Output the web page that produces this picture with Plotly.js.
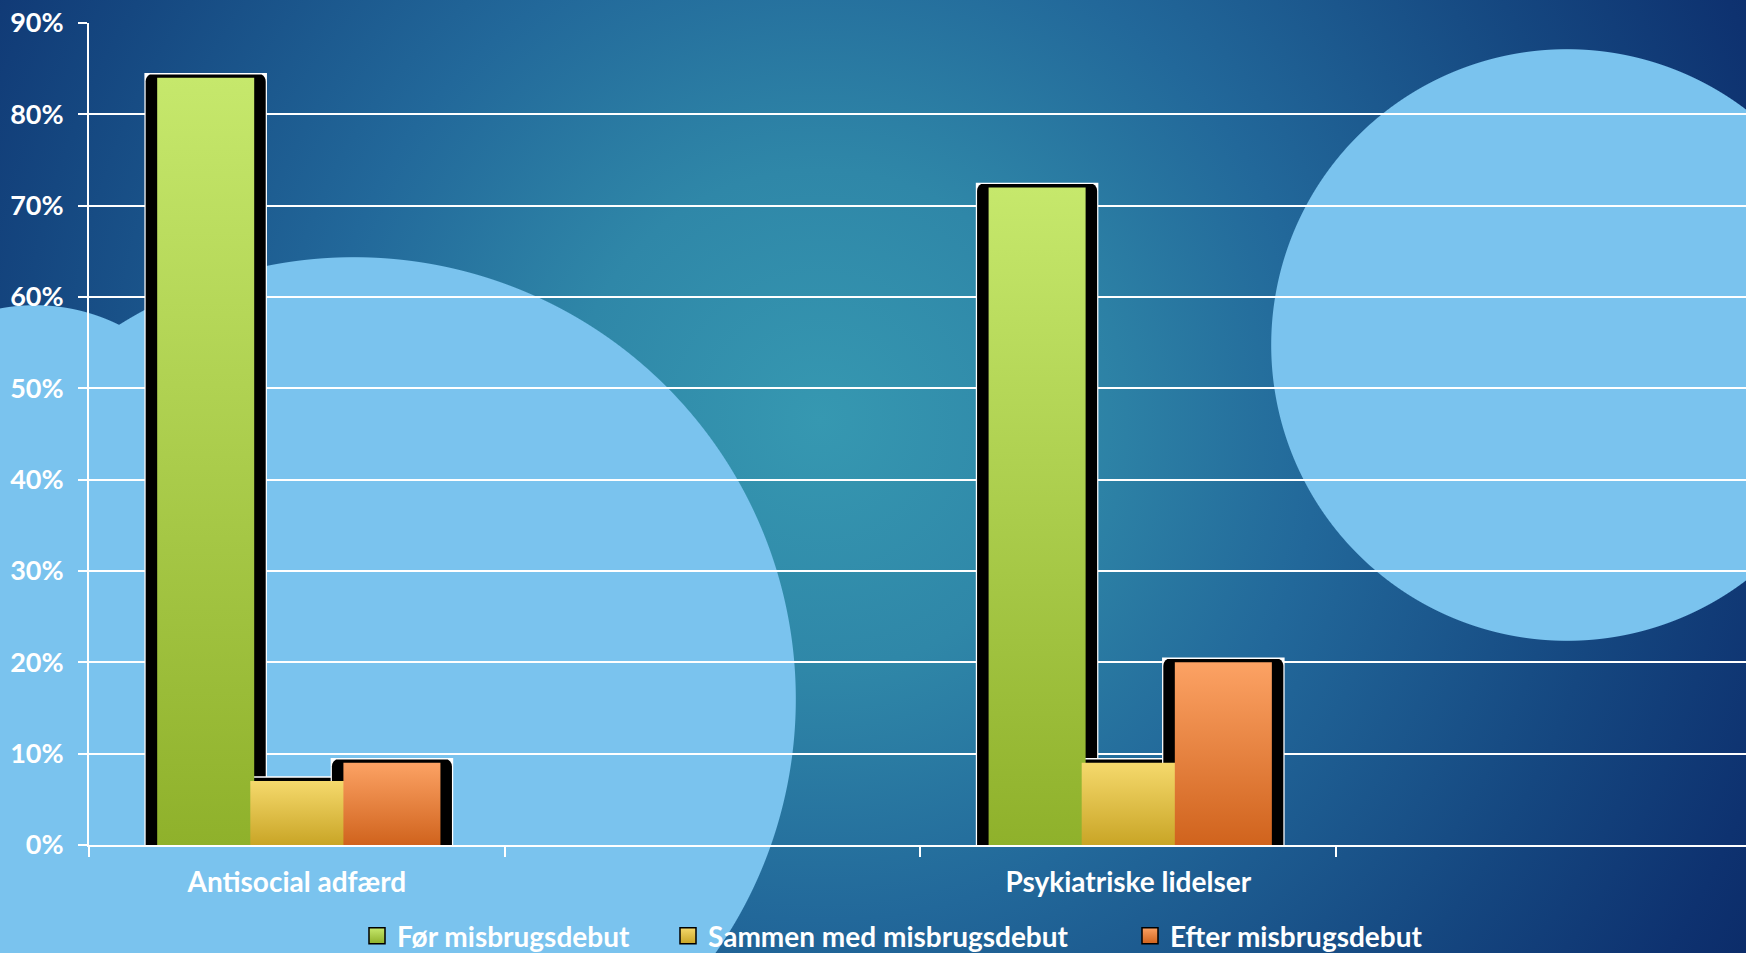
<!DOCTYPE html>
<html>
<head>
<meta charset="utf-8">
<script src="https://cdn.plot.ly/plotly-3.0.1.min.js"></script>
<style>
  html, body { margin:0; padding:0; }
  #chart {
    width:1746px; height:953px;
    background:
      radial-gradient(circle 296px at 1567px 345px, #7ac3ee 295.3px, rgba(122,195,238,0) 296.3px),
      radial-gradient(circle 442px at 354px 699px, #7ac3ee 441.3px, rgba(122,195,238,0) 442.3px),
      radial-gradient(circle 190px at 35px 495px, #7ac3ee 189.3px, rgba(122,195,238,0) 190.3px),
      radial-gradient(circle 1100px at 820px 420px, #3698b1 0px, #2f87a8 250px, #22689a 500px, #154780 800px, #0e3270 1000px, #0b2a67 1100px);
  }
</style>
</head>
<body>
<div id="chart"></div>
<script>
// ---- data ----
const categories = ['Antisocial adfærd', ' ', 'Psykiatriske lidelser', '  '];
const dataCategories = ['Antisocial adfærd', 'Psykiatriske lidelser'];
const seriesNames = ['Før misbrugsdebut', 'Sammen med misbrugsdebut', 'Efter misbrugsdebut'];
const foerValues = [0.84, 0.72];
const sammenValues = [0.07, 0.09];
const efterValues = [0.09, 0.20];
const yTickValues = [0, 0.1, 0.2, 0.3, 0.4, 0.5, 0.6, 0.7, 0.8, 0.9];

// ---- styling ----
const seriesValues = [foerValues, sammenValues, efterValues];
const gradTop = ['#c6e86c', '#f5d96c', '#fca264'];
const gradBottom = ['#8fb12b', '#c9a526', '#d0631d'];
const barW = 0.2334;
const offsets = [-0.336, -0.112, 0.112];
const legendWidths = [266, 417, 0];
const shadowPad = 0.0277;
const tickFont = {family: 'Lato, "Open Sans", sans-serif', size: 27, color: '#ffffff', weight: 'bold'};
const font = {family: 'Lato, "Open Sans", sans-serif', size: 28, color: '#ffffff', weight: 'bold'};

const traces = [];
seriesValues.forEach((vals, i) => {
  traces.push({
    type: 'bar', x: dataCategories, y: vals.map(v => v + 0.0052),
    offset: offsets[i] - shadowPad - 0.003, width: barW + 2 * shadowPad + 0.006,
    marker: {color: '#ffffff', line: {width: 0}},
    showlegend: false, hoverinfo: 'skip'
  });
  traces.push({
    type: 'bar', x: dataCategories, y: vals.map(v => v + 0.0036),
    offset: offsets[i] - shadowPad, width: barW + 2 * shadowPad,
    marker: {color: '#000000', line: {width: 0}, cornerradius: 8},
    showlegend: false, hoverinfo: 'skip'
  });
});
seriesValues.forEach((vals, i) => {
  const t = {
    type: 'bar', name: seriesNames[i], x: dataCategories, y: vals,
    offset: offsets[i], width: barW,
    marker: {color: gradTop[i], line: {width: 0}},
    hovertemplate: '%{x}: %{y:.0%}<extra>' + seriesNames[i] + '</extra>'
  };
  if (legendWidths[i]) t.legendwidth = legendWidths[i];
  traces.push(t);
});

const layout = {
  width: 1746, height: 953,
  margin: {l: 89, r: 0, t: 23, b: 108, autoexpand: false},
  paper_bgcolor: 'rgba(0,0,0,0)',
  plot_bgcolor: 'rgba(0,0,0,0)',
  barmode: 'overlay',
  font: font,
  xaxis: {
    type: 'category', categoryorder: 'array', categoryarray: categories,
    range: [-0.5, 3.486],
    tickson: 'boundaries', ticks: 'outside', ticklen: 10, tickwidth: 2, tickcolor: '#ffffff',
    showline: true, linecolor: '#ffffff', linewidth: 2,
    showgrid: false, zeroline: false,
    tickfont: font, ticklabelstandoff: 11, fixedrange: true
  },
  yaxis: {
    range: [0, 0.9], tickvals: yTickValues, tickformat: '.0%',
    ticks: 'outside', ticklen: 9, tickwidth: 2, tickcolor: '#ffffff',
    showline: true, linecolor: '#ffffff', linewidth: 2,
    showgrid: true, gridcolor: '#ffffff', gridwidth: 2, zeroline: false,
    tickfont: tickFont, ticklabelstandoff: 9, fixedrange: true
  },
  showlegend: true,
  legend: {
    orientation: 'h', x: (371 - 89 - 14) / 1657, xanchor: 'left', y: -0.1107, yanchor: 'middle',
    font: font, bgcolor: 'rgba(0,0,0,0)', itemclick: false, itemdoubleclick: false,
    traceorder: 'normal'
  }
};

Plotly.newPlot('chart', traces, layout, {displayModeBar: false, staticPlot: true}).then(gd => {
  const svg = gd.querySelector('.main-svg');
  const ns = 'http://www.w3.org/2000/svg';
  let defs = svg.querySelector('defs');
  if (!defs) { defs = document.createElementNS(ns, 'defs'); svg.insertBefore(defs, svg.firstChild); }
  gradTop.forEach((top, i) => {
    const lg = document.createElementNS(ns, 'linearGradient');
    lg.setAttribute('id', 'barGrad' + i);
    lg.setAttribute('x1', '0'); lg.setAttribute('y1', '0');
    lg.setAttribute('x2', '0'); lg.setAttribute('y2', '1');
    const s1 = document.createElementNS(ns, 'stop');
    s1.setAttribute('offset', '0'); s1.setAttribute('stop-color', top);
    const s2 = document.createElementNS(ns, 'stop');
    s2.setAttribute('offset', '1'); s2.setAttribute('stop-color', gradBottom[i]);
    lg.appendChild(s1); lg.appendChild(s2); defs.appendChild(lg);
  });
  const barTraces = gd.querySelectorAll('.barlayer .trace');
  for (let i = 0; i < 3; i++) {
    const t = barTraces[6 + i];
    if (t) t.querySelectorAll('path').forEach(p => { p.style.fill = 'url(#barGrad' + i + ')'; });
  }
  const legendItems = gd.querySelectorAll('.legend .traces');
  legendItems.forEach((item, i) => {
    item.querySelectorAll('.legendpoints path').forEach(p => {
      p.setAttribute('d', 'M8,8H-8V-8H8Z');
      p.style.fill = 'url(#barGrad' + i + ')';
      p.style.stroke = '#000000';
      p.style.strokeWidth = '1.5px';
    });
  });
});
</script>
</body>
</html>
